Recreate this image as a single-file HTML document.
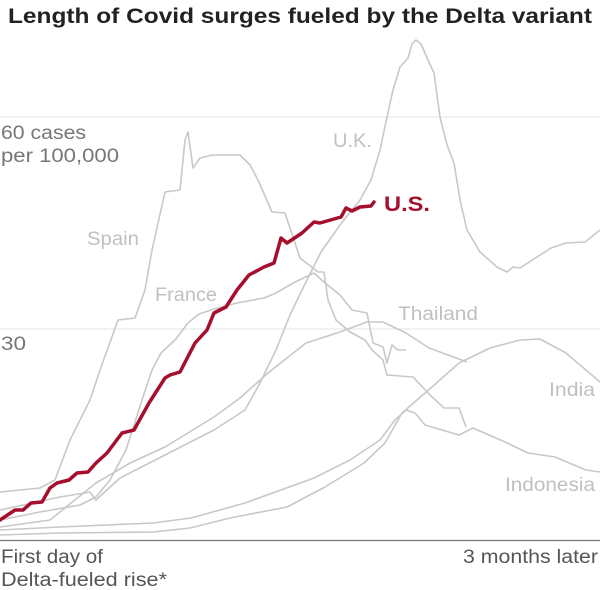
<!DOCTYPE html>
<html><head><meta charset="utf-8"><style>
html,body{margin:0;padding:0;background:#fff;}
svg{display:block;font-family:"Liberation Sans",sans-serif;}
</style></head><body>
<svg width="600" height="590" viewBox="0 0 600 590" xmlns="http://www.w3.org/2000/svg">
<text x="8" y="23" font-size="21" font-weight="bold" fill="#222" textLength="584" lengthAdjust="spacingAndGlyphs">Length of Covid surges fueled by the Delta variant</text>
<line x1="0" y1="117" x2="600" y2="117" stroke="#e4e4e4" stroke-width="1"/>
<line x1="0" y1="329" x2="600" y2="329" stroke="#e4e4e4" stroke-width="1"/>
<g fill="none" stroke="#c8c8c8" stroke-width="1.6" stroke-linejoin="round">
<path d="M0,492 L40,488 L55,480 L70,440 L90,400 L100,370 L118,320 L135,318 L145,290 L152,250 L165,192 L180,190 L185,140 L188,132 L193,168 L200,158 L212,155 L240,155 L250,165 L258,180 L265,196 L272,212 L285,213 L300,258 L318,272 L324,272 L328,300 L336,320 L350,332 L365,340 L372,350 L383,360 L387,375 L400,376 L413,377 L430,395 L444,408 L459,408 L466,427"/>
<path d="M0,520 L40,512 L80,505 L96,497 L110,480 L126,450 L142,400 L152,370 L161,353 L175,340 L188,323 L199,314 L214,309 L237,303 L264,298 L276,293 L295,282 L314,273 L325,283 L340,295 L352,310 L367,313 L373,343 L383,347 L387,363 L392,345 L398,350 L406,350"/>
<path d="M0,510 L60,497 L90,492 L96,500 L120,478 L165,455 L214,430 L245,410 L260,383 L276,350 L290,315 L302,290 L321,252 L340,225 L360,200 L371,180 L380,150 L387,117 L393,90 L400,67 L408,58 L412,44 L416,40 L421,44 L428,60 L434,73 L440,117 L447,145 L454,163 L460,200 L467,230 L480,252 L497,267 L507,272 L513,267 L520,268 L551,248 L566,243 L585,242 L600,230"/>
<path d="M0,527 L50,520 L96,483 L130,463 L165,447 L214,417 L240,398 L268,373 L306,343 L337,333 L367,322 L383,322 L406,333 L429,348 L467,362"/>
<path d="M0,535 L60,533 L153,532 L190,528 L230,518 L287,507 L325,487 L364,463 L385,443 L402,413 L432,387 L459,363 L490,348 L520,340 L540,339 L566,353 L600,382"/>
<path d="M0,530 L60,527 L153,523 L191,518 L245,503 L314,478 L350,460 L380,440 L395,420 L406,410 L415,413 L425,425 L459,435 L473,428 L505,442 L528,453 L555,457 L586,470 L600,472"/>
</g>
<path fill="none" stroke="#a50f2d" stroke-width="3.5" stroke-linejoin="round" stroke-linecap="round" d="M0,520 L15,510 L23,510 L31,503 L42,502 L50,488 L57,483 L69,480 L77,473 L88,472 L96,463 L107,453 L122,433 L134,430 L149,403 L165,378 L170,375 L180,372 L195,343 L207,330 L214,313 L226,307 L237,290 L249,275 L264,267 L274,263 L281,238 L287,243 L302,233 L314,222 L320,223 L341,217 L346,208 L352,211 L360,207 L371,206 L374,202"/>
<line x1="0" y1="540.5" x2="600" y2="540.5" stroke="#777" stroke-width="1.2"/>
<g font-size="19" fill="#c0c0c0" lengthAdjust="spacingAndGlyphs">
<text x="333" y="147" textLength="39" lengthAdjust="spacingAndGlyphs">U.K.</text>
<text x="87" y="245" textLength="52" lengthAdjust="spacingAndGlyphs">Spain</text>
<text x="155" y="301" textLength="62" lengthAdjust="spacingAndGlyphs">France</text>
<text x="398" y="320" textLength="80" lengthAdjust="spacingAndGlyphs">Thailand</text>
<text x="549" y="396" textLength="46" lengthAdjust="spacingAndGlyphs">India</text>
<text x="505" y="491" textLength="90" lengthAdjust="spacingAndGlyphs">Indonesia</text>
</g>
<text x="384" y="211" font-size="21" font-weight="bold" fill="#a50f2d" textLength="46" lengthAdjust="spacingAndGlyphs">U.S.</text>
<g font-size="19" fill="#777">
<text x="1" y="139" textLength="85" lengthAdjust="spacingAndGlyphs">60 cases</text>
<text x="1" y="162" textLength="118" lengthAdjust="spacingAndGlyphs">per 100,000</text>
<text x="1" y="350" textLength="25" lengthAdjust="spacingAndGlyphs">30</text>
</g>
<g font-size="19" fill="#555">
<text x="1" y="563" textLength="102" lengthAdjust="spacingAndGlyphs">First day of</text>
<text x="1" y="586" textLength="166" lengthAdjust="spacingAndGlyphs">Delta-fueled rise*</text>
<text x="463" y="563" textLength="135" lengthAdjust="spacingAndGlyphs">3 months later</text>
</g>
</svg>
</body></html>
